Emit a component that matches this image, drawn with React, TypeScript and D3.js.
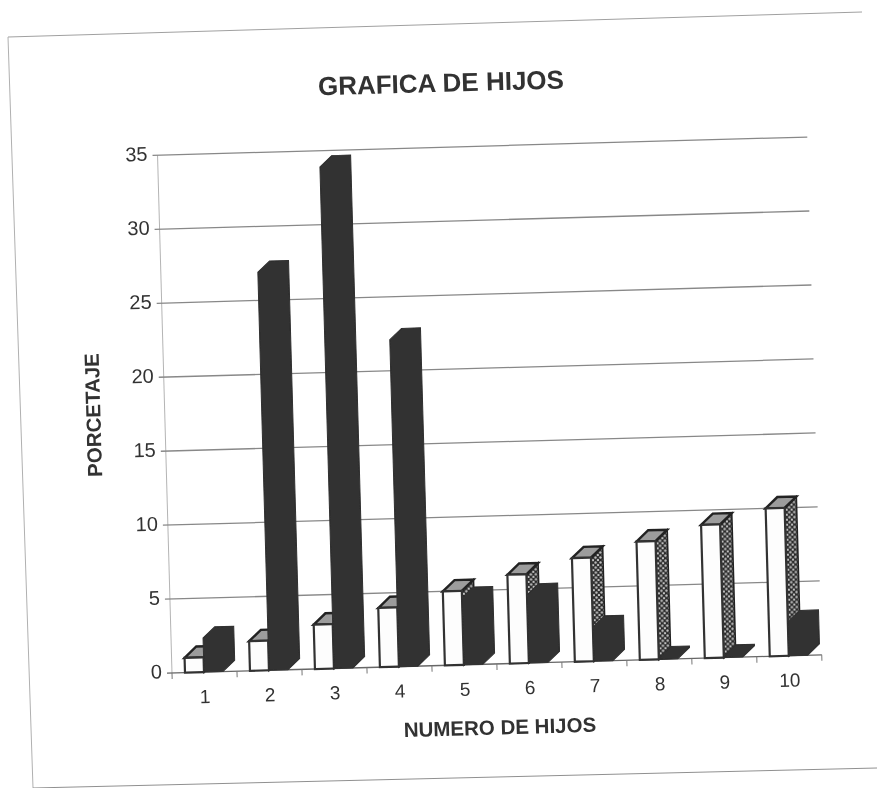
import React from "react";
import * as d3 from "d3";

const categories = ["1", "2", "3", "4", "5", "6", "7", "8", "9", "10"];
const lightSeries = [1, 2, 3, 4, 5, 6, 7, 8, 9, 10];
const darkSeries = [2.3, 26.9, 33.9, 22.1, 4.5, 4.6, 2.3, 0.1, 0.1, 2.3];
const yTicks = [0, 5, 10, 15, 20, 25, 30, 35];

const W = 877;
const H = 788;
const plotW = 650;
const plotH = 518;
const depthX = 12;
const depthY = 11;
const INK = "#303030";
const FONT = "'Liberation Sans', Arial, sans-serif";

const x = d3.scaleBand<string>().domain(categories).range([0, plotW]);
const y = d3.scaleLinear().domain([0, 35]).range([0, -plotH]);

function poly(pts: [number, number][]) {
  return d3.line()(pts) + "Z";
}

export default function App() {
  const bw = 19;
  const off = 13;
  return (
    <svg
      width={W}
      height={H}
      viewBox={`0 0 ${W} ${H}`}
      style={{ position: "absolute", left: 0, top: 0, display: "block", background: "#fff" }}
    >
      <defs>
        <pattern id="dots" width="5" height="5" patternUnits="userSpaceOnUse">
          <rect width="5" height="5" fill="#2a2a2a" />
          <circle cx="1.5" cy="1.5" r="1.2" fill="#c4c4c4" />
          <circle cx="4" cy="4" r="1.2" fill="#c4c4c4" />
        </pattern>
        <filter id="scan" x="-5%" y="-5%" width="110%" height="110%">
          <feGaussianBlur stdDeviation="0.65" />
        </filter>
      </defs>

      <g filter="url(#scan)">
        {/* sheet edges */}
        <path d="M8,37L862,12" stroke="#a0a0a0" fill="none" />
        <path d="M8,37L33,788" stroke="#b0b0b0" fill="none" />
        <path d="M33,788L877,768" stroke="#909090" fill="none" />

        <text
          x={441}
          y={85}
          textAnchor="middle"
          dominantBaseline="middle"
          fontFamily={FONT}
          fontWeight="bold"
          fontSize={26}
          fill="#333"
          transform="rotate(-1.6 441 85)"
        >
          GRAFICA DE HIJOS
        </text>

        <g transform="translate(172,673) rotate(-1.6)">
          {/* axis lines */}
          <line x1={0} x2={0} y1={0} y2={y(35)} stroke="#b4b4b4" />
          {yTicks.map((t) => (
            <g key={t}>
              <line x1={-5} x2={plotW} y1={y(t)} y2={y(t)} stroke={t === 0 ? "#666" : "#888"} strokeWidth={1.3} />
              <text
                x={-10}
                y={y(t)}
                textAnchor="end"
                dominantBaseline="middle"
                fontFamily={FONT}
                fontSize={20}
                fill="#333"
              >
                {t}
              </text>
            </g>
          ))}
          {categories.map((c, i) => (
            <g key={c}>
              <line x1={i * x.step()} x2={i * x.step()} y1={0} y2={6} stroke="#777" />
              {i === categories.length - 1 && (
                <line x1={plotW} x2={plotW} y1={0} y2={6} stroke="#777" />
              )}
              <text
                x={x(c)! + x.bandwidth() / 2}
                y={26}
                textAnchor="middle"
                dominantBaseline="middle"
                fontFamily={FONT}
                fontSize={19}
                fill="#333"
              >
                {c}
              </text>
            </g>
          ))}

          {/* columns */}
          {categories.map((c, i) => {
            const x0 = x(c)! + off;
            const x1 = x0 + bw;
            const x2 = x1 + bw;
            const top = y(lightSeries[i]);
            const dTop = y(darkSeries[i]);
            return (
              <g key={c}>
                {/* light column */}
                <path
                  d={poly([[x1, 0], [x1, top], [x1 + depthX, top - depthY], [x1 + depthX, -depthY]])}
                  fill="url(#dots)"
                  stroke="#222"
                  strokeWidth={1.6}
                />
                <path
                  d={poly([[x0, top], [x0 + depthX, top - depthY], [x1 + depthX, top - depthY], [x1, top]])}
                  fill="#9c9c9c"
                  stroke="#222"
                  strokeWidth={2.4}
                />
                <rect x={x0} y={top} width={bw} height={-top} fill="#fdfdfd" stroke="#333" strokeWidth={2.2} />
                {/* dark column */}
                <path
                  d={poly([
                    [x1, 0],
                    [x1, dTop],
                    [x1 + depthX, dTop - depthY],
                    [x2 + depthX, dTop - depthY],
                    [x2 + depthX, -depthY],
                    [x2, 0],
                  ])}
                  fill={INK}
                  stroke={INK}
                />
              </g>
            );
          })}
        </g>

        <text
          x={500}
          y={729}
          textAnchor="middle"
          dominantBaseline="middle"
          fontFamily={FONT}
          fontWeight="bold"
          fontSize={20.5}
          fill="#333"
          transform="rotate(-1.6 500 729)"
        >
          NUMERO DE HIJOS
        </text>
        <text
          x={95}
          y={415}
          textAnchor="middle"
          dominantBaseline="middle"
          fontFamily={FONT}
          fontWeight="bold"
          fontSize={20.5}
          fill="#333"
          transform="rotate(-91.6 95 415)"
        >
          PORCETAJE
        </text>
      </g>
    </svg>
  );
}
